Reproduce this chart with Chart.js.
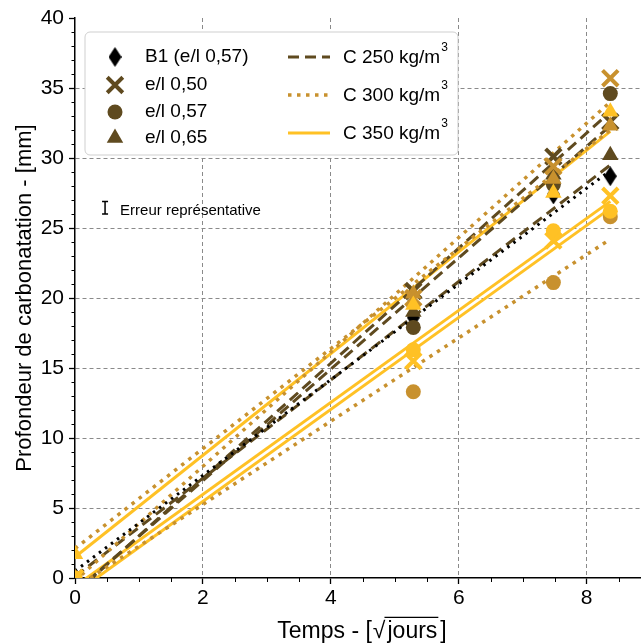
<!DOCTYPE html>
<html lang="fr">
<head>
    <meta charset="UTF-8">
    <title>Profondeur de carbonatation</title>
    <script src="https://cdn.jsdelivr.net/npm/chart.js"></script>
    <style>
        html, body { margin: 0; padding: 0; background: #fff; }
        #wrap { width: 641px; height: 644px; }
    </style>
</head>
<body>
    <div id="wrap"><canvas id="carbChart" width="641" height="644"></canvas></div>

    <script>
        // abscissa: sqrt(days)
        var tSqrt = [0, 5.29, 7.48, 8.37];

        // measured depths (mm)
        var b1 = [0, 18.6, 27.4, 28.7];
        var c250e050 = [0, 20.5, 30.1, 32.6];
        var c250e057 = [0, 17.9, 28.1, 34.6];
        var c250e065 = [0, 19.0, 28.8, 30.2];
        var c300e050 = [0, 20.0, 29.4, 35.7];
        var c300e057 = [0, 13.3, 21.1, 25.8];
        var c300e065 = [0, 20.3, 28.5, 32.3];
        var c350e050 = [0, 15.5, 24.1, 27.3];
        var c350e057 = [0, 16.3, 24.8, 26.2];
        var c350e065 = [1.7, 19.5, 27.5, 33.3];

        // fitted lines: depth at first and last abscissa
        var b1Fit = [0.5, 29.1];
        var c250e050Fit = [-1.0, 32.3];
        var c250e057Fit = [-1.1, 33.3];
        var c250e065Fit = [0.1, 29.5];
        var c300e050Fit = [-0.2, 34.0];
        var c300e057Fit = [-0.7, 24.2];
        var c300e065Fit = [2.1, 32.0];
        var c350e050Fit = [-0.6, 26.9];
        var c350e057Fit = [-1.1, 26.4];
        var c350e065Fit = [1.5, 31.9];

        var xTicks = [0, 2, 4, 6, 8];
        var yTicks = [0, 5, 10, 15, 20, 25, 30, 35, 40];
        var errBar = [0.47, 26.45, 0.45]; // x, y, half height (mm)

        var FONT = "'Liberation Sans', Arial, sans-serif";
        var DARK = '#5f4a1f';
        var GOLD = '#c8912e';
        var YELLOW = '#ffc125';

        Chart.defaults.font.family = FONT;

        function makeDiamond(w, h, color) {
            var c = document.createElement('canvas');
            c.width = w; c.height = h;
            var g = c.getContext('2d');
            g.fillStyle = color;
            g.beginPath();
            g.moveTo(w / 2, 0); g.lineTo(w, h / 2); g.lineTo(w / 2, h); g.lineTo(0, h / 2);
            g.closePath();
            g.fill();
            return c;
        }
        var diamond = makeDiamond(13, 20, '#000');

        var shapes = {
            cross: { pointStyle: 'crossRot', radius: 11, borderWidth: 4 },
            circle: { pointStyle: 'circle', radius: 7.5, borderWidth: 0 },
            triangle: { pointStyle: 'triangle', radius: 9.5, borderWidth: 0 },
            diamond: { pointStyle: diamond, radius: 10, borderWidth: 0 }
        };

        function pts(arr) {
            return tSqrt.map(function (t, i) { return { x: t, y: arr[i] }; });
        }
        function fitPts(f) {
            return [{ x: tSqrt[0], y: f[0] }, { x: tSqrt[tSqrt.length - 1], y: f[1] }];
        }
        function markers(label, arr, shape, color, order) {
            var s = shapes[shape];
            return {
                label: label, data: pts(arr), showLine: false, order: order,
                pointStyle: s.pointStyle, pointRadius: s.radius, pointHoverRadius: s.radius,
                pointBorderWidth: s.borderWidth, pointBackgroundColor: color, pointBorderColor: color
            };
        }
        function fitLine(label, f, color, width, dash, order) {
            return {
                label: label, data: fitPts(f), showLine: true, order: order, clip: 0,
                borderColor: color, borderWidth: width, borderDash: dash, borderCapStyle: 'butt',
                pointRadius: 0, pointHoverRadius: 0, fill: false, tension: 0
            };
        }

        var datasets = [
            markers('C350 e/l 0,50', c350e050, 'cross', YELLOW, 1),
            markers('C350 e/l 0,57', c350e057, 'circle', YELLOW, 1),
            markers('C350 e/l 0,65', c350e065, 'triangle', YELLOW, 1),
            markers('C300 e/l 0,50', c300e050, 'cross', GOLD, 2),
            markers('C300 e/l 0,57', c300e057, 'circle', GOLD, 2),
            markers('C300 e/l 0,65', c300e065, 'triangle', GOLD, 2),
            markers('C250 e/l 0,50', c250e050, 'cross', DARK, 3),
            markers('C250 e/l 0,57', c250e057, 'circle', DARK, 3),
            markers('C250 e/l 0,65', c250e065, 'triangle', DARK, 3),
            markers('B1 (e/l 0,57)', b1, 'diamond', '#000', 4),
            fitLine('B1 fit', b1Fit, '#000', 3, [2.5, 5], 5),
            fitLine('C300 0,50 fit', c300e050Fit, GOLD, 3.5, [3.5, 5.5], 6),
            fitLine('C300 0,57 fit', c300e057Fit, GOLD, 3.5, [3.5, 5.5], 6),
            fitLine('C300 0,65 fit', c300e065Fit, GOLD, 3.5, [3.5, 5.5], 6),
            fitLine('C250 0,50 fit', c250e050Fit, DARK, 3, [11, 6], 7),
            fitLine('C250 0,57 fit', c250e057Fit, DARK, 3, [11, 6], 7),
            fitLine('C250 0,65 fit', c250e065Fit, DARK, 3, [11, 6], 7),
            fitLine('C350 0,50 fit', c350e050Fit, YELLOW, 3, [], 8),
            fitLine('C350 0,57 fit', c350e057Fit, YELLOW, 3, [], 8),
            fitLine('C350 0,65 fit', c350e065Fit, YELLOW, 3, [], 8)
        ];

        function drawMark(ctx, shape, color, x, y) {
            var s = shapes[shape];
            ctx.save();
            ctx.fillStyle = color;
            ctx.strokeStyle = color;
            ctx.lineWidth = s.borderWidth;
            Chart.helpers.drawPoint(ctx, { pointStyle: s.pointStyle, radius: s.radius, rotation: 0, borderWidth: s.borderWidth }, x, y);
            ctx.restore();
        }

        // minor ticks, legend, error note and x title
        var extras = {
            id: 'extras',
            afterDraw: function (chart) {
                var ctx = chart.ctx, xs = chart.scales.x, ys = chart.scales.y, area = chart.chartArea;
                ctx.save();

                ctx.strokeStyle = '#000';
                ctx.lineWidth = 1;
                ctx.beginPath();
                for (var v = 1; v < 40; v++) {
                    if (v % 5 === 0) continue;
                    var py = Math.round(ys.getPixelForValue(v)) + 0.5;
                    ctx.moveTo(area.left - 3.5, py); ctx.lineTo(area.left, py);
                }
                for (var u = 0.5; u < xs.max; u += 0.5) {
                    if (u % 2 === 0) continue;
                    var px = Math.round(xs.getPixelForValue(u)) + 0.5;
                    ctx.moveTo(px, area.bottom); ctx.lineTo(px, area.bottom + 4);
                }
                ctx.stroke();

                // legend box
                var bx = 85, by = 32, bw = 373, bh = 123, r = 5;
                ctx.beginPath();
                ctx.moveTo(bx + r, by); ctx.lineTo(bx + bw - r, by); ctx.arcTo(bx + bw, by, bx + bw, by + r, r);
                ctx.lineTo(bx + bw, by + bh - r); ctx.arcTo(bx + bw, by + bh, bx + bw - r, by + bh, r);
                ctx.lineTo(bx + r, by + bh); ctx.arcTo(bx, by + bh, bx, by + bh - r, r);
                ctx.lineTo(bx, by + r); ctx.arcTo(bx, by, bx + r, by, r);
                ctx.closePath();
                ctx.fillStyle = '#fff';
                ctx.fill();
                ctx.strokeStyle = '#cfcfcf';
                ctx.lineWidth = 1;
                ctx.stroke();

                ctx.fillStyle = '#000';
                ctx.font = '19px ' + FONT;
                ctx.textBaseline = 'middle';
                ctx.textAlign = 'left';
                var leftRows = [
                    ['diamond', '#000', 'B1 (e/l 0,57)', 57],
                    ['cross', DARK, 'e/l 0,50', 85],
                    ['circle', DARK, 'e/l 0,57', 112],
                    ['triangle', DARK, 'e/l 0,65', 138]
                ];
                leftRows.forEach(function (row) {
                    drawMark(ctx, row[0], row[1], 115, row[3]);
                    ctx.fillStyle = '#000';
                    ctx.fillText(row[2], 145, row[3]);
                });

                var rightRows = [
                    ['C 250 kg/m', DARK, [11, 6], 3, 57],
                    ['C 300 kg/m', GOLD, [3.5, 5.5], 3.5, 95],
                    ['C 350 kg/m', YELLOW, [], 3, 133]
                ];
                rightRows.forEach(function (row) {
                    ctx.save();
                    ctx.strokeStyle = row[1];
                    ctx.lineWidth = row[3];
                    ctx.setLineDash(row[2]);
                    ctx.beginPath();
                    ctx.moveTo(288, row[4]); ctx.lineTo(330, row[4]);
                    ctx.stroke();
                    ctx.restore();
                    ctx.font = '19px ' + FONT;
                    ctx.textBaseline = 'alphabetic';
                    ctx.fillStyle = '#000';
                    ctx.fillText(row[0], 343, row[4] + 6);
                    var w = ctx.measureText(row[0]).width;
                    ctx.font = '12px ' + FONT;
                    ctx.fillText('3', 343 + w + 1, row[4] - 6);
                });

                // representative error bar
                var ex = xs.getPixelForValue(errBar[0]);
                var eTop = ys.getPixelForValue(errBar[1] + errBar[2]);
                var eBot = ys.getPixelForValue(errBar[1] - errBar[2]);
                ctx.strokeStyle = '#000';
                ctx.lineWidth = 1.5;
                ctx.beginPath();
                ctx.moveTo(ex, eTop); ctx.lineTo(ex, eBot);
                ctx.moveTo(ex - 3, eTop); ctx.lineTo(ex + 3, eTop);
                ctx.moveTo(ex - 3, eBot); ctx.lineTo(ex + 3, eBot);
                ctx.stroke();
                ctx.font = '15px ' + FONT;
                ctx.textBaseline = 'alphabetic';
                ctx.fillStyle = '#000';
                ctx.fillText('Erreur représentative', ex + 15, eBot + 1);

                // x axis title with square root
                var fs = 23;
                ctx.font = fs + 'px ' + FONT;
                var p1 = 'Temps - [', p2 = '\u221A', p3 = 'jours', p4 = ']';
                var w1 = ctx.measureText(p1).width, w2 = ctx.measureText(p2).width,
                    w3 = ctx.measureText(p3).width, w4 = ctx.measureText(p4).width;
                var total = w1 + w2 + w3 + w4 + 6;
                var x0 = (area.left + area.right) / 2 - total / 2 + 4;
                var base = 638;
                ctx.fillText(p1, x0, base);
                ctx.fillText(p2, x0 + w1 + 1, base);
                ctx.fillText(p3, x0 + w1 + w2 + 3, base);
                ctx.fillText(p4, x0 + w1 + w2 + w3 + 6, base);
                ctx.lineWidth = 1.3;
                ctx.beginPath();
                var oy = base - fs * 0.9;
                ctx.moveTo(x0 + w1 + w2, oy); ctx.lineTo(x0 + w1 + w2 + w3 + 4, oy);
                ctx.stroke();

                ctx.restore();
            }
        };

        var ctx = document.getElementById('carbChart').getContext('2d');
        var carbChart = new Chart(ctx, {
            type: 'scatter',
            data: { datasets: datasets },
            options: {
                responsive: false,
                animation: false,
                layout: { autoPadding: false, padding: { top: 18, right: 0, bottom: 0, left: 0 } },
                plugins: {
                    legend: { display: false },
                    tooltip: { enabled: false }
                },
                scales: {
                    x: {
                        type: 'linear',
                        min: 0,
                        max: 8.85,
                        afterBuildTicks: function (s) { s.ticks = xTicks.map(function (v) { return { value: v }; }); },
                        afterFit: function (s) { s.height = 66; },
                        ticks: { color: '#000', font: { size: 21 }, padding: 2 },
                        grid: {
                            color: function (c) { return c.tick && c.tick.value === 0 ? 'rgba(0,0,0,0)' : '#8a8a8a'; },
                            lineWidth: 1,
                            tickColor: '#000',
                            tickLength: 6,
                            tickWidth: 1.3
                        },
                        border: { display: true, color: '#000', width: 1.5, dash: [4, 3] },
                        title: { display: false }
                    },
                    y: {
                        type: 'linear',
                        min: 0,
                        max: 40,
                        afterBuildTicks: function (s) { s.ticks = yTicks.map(function (v) { return { value: v }; }); },
                        afterFit: function (s) { s.width = 75; },
                        ticks: { color: '#000', font: { size: 21 }, padding: 5 },
                        grid: {
                            color: function (c) {
                                return c.tick && (c.tick.value === 0 || c.tick.value === 40) ? 'rgba(0,0,0,0)' : '#8a8a8a';
                            },
                            lineWidth: 1,
                            tickColor: '#000',
                            tickLength: 6,
                            tickWidth: 1.3
                        },
                        border: { display: true, color: '#000', width: 1.5, dash: [4, 3] },
                        title: {
                            display: true,
                            text: 'Profondeur de carbonatation - [mm]',
                            color: '#000',
                            font: { size: 22 },
                            padding: { top: 12, bottom: 0 }
                        }
                    }
                }
            },
            plugins: [extras]
        });
    </script>
</body>
</html>
